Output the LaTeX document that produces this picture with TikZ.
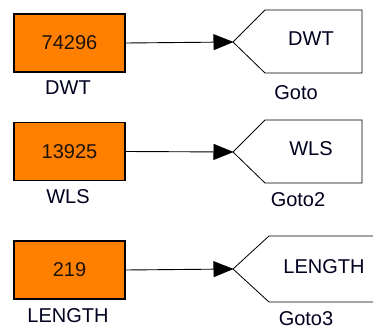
\documentclass[tikz,border=0pt]{standalone}
\usepackage{fontspec}
\setmainfont{Liberation Sans}
\usetikzlibrary{arrows.meta}
\definecolor{blkorange}{HTML}{FF8000}
\begin{document}
\begin{tikzpicture}[x=1pt,y=-1pt,
  constblock/.style={draw=black,line width=1.3pt,fill=blkorange,minimum width=111pt,minimum height=58pt,inner sep=0pt,font=\fontsize{20}{20}\selectfont,text=black!85!brown},
  lbl/.style={font=\fontsize{20}{20}\selectfont,inner sep=0pt,text=black!88!blue},
  gototxt/.style={font=\fontsize{20}{20}\selectfont,inner sep=0pt,text=black!88!blue},
  gotoshape/.style={draw=black,line width=0.8pt,fill=white},
  sig/.style={draw=black,line width=0.9pt,-{Triangle[length=20pt,width=16pt]},shorten >=-0.5pt}
]
\useasboundingbox (0,0) rectangle (373,329);
% Row 1
\node[constblock] (c1) at (69.5,43) {74296};
\node[lbl] (l1) at (68,88) {DWT};
\draw[gotoshape] (233,42) coordinate (g1) -- (265,10) -- (362,10) -- (362,73) -- (265,73) -- cycle;
\node[gototxt] (t1) at (311,39) {DWT};
\node[lbl] (gl1) at (296,93) {Goto};
\draw[sig] (c1.east) -- (g1);
% Row 2
\node[constblock] (c2) at (69.5,151.5) {13925};
\node[lbl] (l2) at (68,197) {WLS};
\draw[gotoshape] (233,152) coordinate (g2) -- (265,120) -- (362,120) -- (362,183) -- (265,183) -- cycle;
\node[gototxt] (t2) at (311,149) {WLS};
\node[lbl] (gl2) at (298,200) {Goto2};
\draw[sig] (c2.east) -- (g2);
% Row 3
\node[constblock] (c3) at (69.5,270) {219};
\node[lbl] (l3) at (68,315.5) {LENGTH};
\draw[gotoshape] (374,236) -- (269,236) -- (233,269) coordinate (g3) -- (269,302) -- (374,302);
\node[gototxt] (t3) at (324,267) {LENGTH};
\node[lbl] (gl3) at (306,318.5) {Goto3};
\draw[sig] (c3.east) -- (g3);
\end{tikzpicture}
\end{document}
